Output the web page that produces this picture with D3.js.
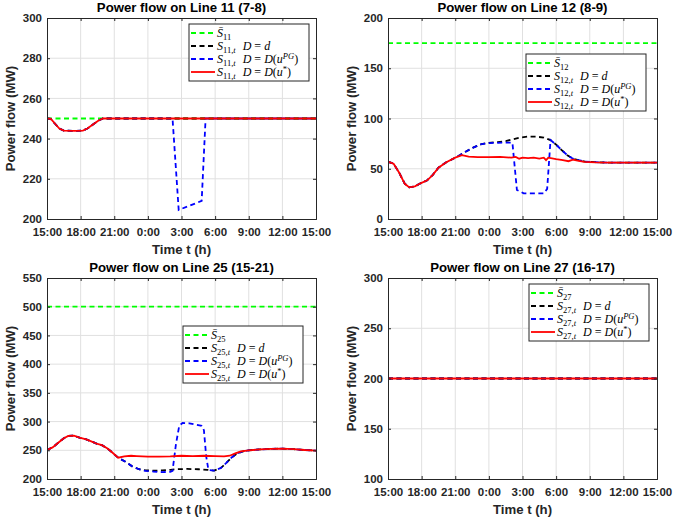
<!DOCTYPE html>
<html>
<head>
<meta charset="utf-8">
<script src="https://cdn.jsdelivr.net/npm/d3@7"></script>
<style>
body { margin: 0; background: #fff; }
text { font-family: "Liberation Sans", Arial, sans-serif; }
</style>
</head>
<body>
<div id="fig"></div>
<script>
// hours after 15:00, one day
var hourTicks = [0, 3, 6, 9, 12, 15, 18, 21, 24];
var hourLabels = ["15:00", "18:00", "21:00", "0:00", "3:00", "6:00", "9:00", "12:00", "15:00"];

// Line 11 (7-8)
var l11Limit = 250;
var l11Time = [0, 0.35, 0.7, 1.1, 1.5, 2.5, 3.2, 3.6, 4.1, 4.6, 5.0, 11.2, 11.75, 13.8, 14.15, 24];
var l11Base = [250, 249.8, 247.5, 245, 244, 243.8, 244, 245, 247, 249, 250, 250, 250, 250, 250, 250];
var l11PG   = [250, 249.8, 247.5, 245, 244, 243.8, 244, 245, 247, 249, 250, 250, 204.5, 209, 250, 250];
var l11Opt  = [250, 249.8, 247.5, 245, 244, 243.8, 244, 245, 247, 249, 250, 250, 250, 250, 250, 250];

// Line 12 (8-9)
var l12Limit = 175;
var l12BaseT = [0, 0.5, 1.0, 1.5, 1.9, 2.4, 2.9, 3.5, 4.0, 4.5, 5.2, 6.0, 6.4, 7.0, 7.6, 8.35, 9.0, 9.8, 10.5, 11.2, 11.8, 12.5, 13.2, 13.9, 14.5, 15.0, 15.5, 16.0, 16.5, 17.0, 17.6, 18.5, 20, 22, 24];
var l12BaseV = [57, 55, 46, 35, 31.5, 32.5, 35.5, 38.5, 44, 51, 56.5, 61, 63.5, 67.5, 71, 74.6, 75.8, 76.5, 77.5, 79.5, 81, 82, 82, 81, 78.5, 74, 68.5, 63.5, 60, 58.5, 57, 56.5, 56, 56, 56];
var l12PGT = [0, 0.5, 1.0, 1.5, 1.9, 2.4, 2.9, 3.5, 4.0, 4.5, 5.2, 6.0, 6.4, 7.0, 7.6, 8.35, 9.0, 9.8, 10.5, 11.1, 11.5, 12.1, 13.9, 14.2, 14.5, 15.0, 15.5, 16.0, 16.5, 17.0, 17.6, 18.5, 20, 22, 24];
var l12PGV = [57, 55, 46, 35, 31.5, 32.5, 35.5, 38.5, 44, 51, 56.5, 61, 63.5, 67.5, 71, 74.6, 75.5, 75.8, 76, 76, 29, 25.5, 25.5, 30, 78.5, 74, 68.5, 63.5, 60, 58.5, 57, 56.5, 56, 56, 56];
var l12OptT = [0, 0.5, 1.0, 1.5, 1.9, 2.4, 2.9, 3.5, 4.0, 4.5, 5.2, 6.0, 6.6, 7.2, 8, 9, 10, 11, 11.4, 11.7, 12, 12.5, 13, 13.5, 13.9, 14.1, 14.3, 15, 15.6, 16.1, 16.5, 16.9, 17.5, 18.5, 20, 22, 24];
var l12OptV = [57, 55, 46, 35, 31.5, 32.5, 35.5, 38.5, 44, 51, 56.5, 61, 63.5, 62, 61.5, 61.5, 61.8, 61, 61.8, 60, 61, 60.5, 61, 60, 61, 58.5, 61, 59.5, 58.5, 57.5, 59, 58, 56.8, 56.3, 56, 56, 56];

// Line 25 (15-21)
var l25Limit = 500;
var l25BaseT = [0, 0.5, 1.0, 1.5, 1.9, 2.4, 2.9, 3.5, 4.0, 4.5, 4.9, 5.4, 5.75, 6.35, 7.0, 7.6, 8.2, 8.8, 9.5, 10.3, 11, 11.5, 12.5, 13.5, 14.3, 14.9, 15.5, 16.0, 16.5, 17.0, 17.5, 18, 19, 20, 21, 22, 23, 24];
var l25BaseV = [250.5, 255, 263, 271, 275, 275.5, 272, 269, 265, 261, 259, 253, 247.5, 237, 230, 222, 217, 215, 214.5, 215, 216, 217, 217.5, 217, 216, 214.5, 219, 228, 238, 245, 248, 250, 251.5, 252.5, 253, 252, 250.5, 249.5];
var l25PGT = [0, 0.5, 1.0, 1.5, 1.9, 2.4, 2.9, 3.5, 4.0, 4.5, 4.9, 5.4, 5.75, 6.35, 7.0, 7.6, 8.2, 8.8, 9.5, 10.3, 11.0, 11.2, 11.5, 11.8, 12.1, 12.7, 13.3, 13.8, 14.0, 14.2, 14.4, 14.9, 15.5, 16.0, 16.5, 17.0, 17.5, 18, 19, 20, 21, 22, 23, 24];
var l25PGV = [250.5, 255, 263, 271, 275, 275.5, 272, 269, 265, 261, 259, 253, 247.5, 237, 230, 222, 217, 214, 213, 212, 212.5, 214, 260, 293, 297.5, 297, 294.5, 292.5, 285, 240, 216, 214.5, 219, 228, 238, 245, 248, 250, 251.5, 252.5, 253, 252, 250.5, 249.5];
var l25OptT = [0, 0.5, 1.0, 1.5, 1.9, 2.4, 2.9, 3.5, 4.0, 4.5, 4.9, 5.4, 5.75, 6.35, 6.9, 7.5, 8, 9, 10, 11, 12, 13, 14, 15, 15.8, 16.3, 16.8, 17.3, 18, 19, 20, 21, 22, 23, 24];
var l25OptV = [250.5, 255, 263, 271, 275, 275.5, 272, 269, 265, 261, 259, 253, 247.5, 237, 239.5, 240.5, 240, 239, 239, 239.5, 240.5, 240, 240.5, 240, 239.5, 240.5, 244.5, 248, 250, 251.5, 252.5, 253, 252, 250.5, 249.5];

// Line 27 (16-17)
var l27Limit = 200;
var l27Time = [0, 24];
var l27Base = [200, 200];
var l27PG   = [200, 200];
var l27Opt  = [200, 200];

var panels = [
  { title: "Power flow on Line 11 (7-8)", id: "11", limit: l11Limit, ydom: [200, 300], yticks: [200, 220, 240, 260, 280, 300],
    base: [l11Time, l11Base], pg: [l11Time, l11PG], opt: [l11Time, l11Opt],
    box: { x: 47, y: 18 }, legend: { x: 189, y: 24 } },
  { title: "Power flow on Line 12 (8-9)", id: "12", limit: l12Limit, ydom: [0, 200], yticks: [0, 50, 100, 150, 200],
    base: [l12BaseT, l12BaseV], pg: [l12PGT, l12PGV], opt: [l12OptT, l12OptV],
    box: { x: 388, y: 18 }, legend: { x: 526, y: 54 } },
  { title: "Power flow on Line 25 (15-21)", id: "25", limit: l25Limit, ydom: [200, 550], yticks: [200, 250, 300, 350, 400, 450, 500, 550],
    base: [l25BaseT, l25BaseV], pg: [l25PGT, l25PGV], opt: [l25OptT, l25OptV],
    box: { x: 47, y: 278 }, legend: { x: 183, y: 326 } },
  { title: "Power flow on Line 27 (16-17)", id: "27", limit: l27Limit, ydom: [100, 300], yticks: [100, 150, 200, 250, 300],
    base: [l27Time, l27Base], pg: [l27Time, l27PG], opt: [l27Time, l27Opt],
    box: { x: 388, y: 278 }, legend: { x: 529, y: 284 } }
];

var W = 673, H = 523;
var pw = 269, ph = 201;
var axisCol = "#262626";
var dash = "5,3.5";

var svg = d3.select("#fig").append("svg")
  .attr("width", W)
  .attr("height", H);

panels.forEach(function (p, i) {
  var g = svg.append("g").attr("transform", `translate(${p.box.x},${p.box.y})`);

  var x = d3.scaleLinear().domain([0, 24]).range([0, pw]);
  var y = d3.scaleLinear().domain(p.ydom).range([ph, 0]);

  // grid
  g.selectAll(".gx").data(hourTicks.slice(1, -1)).enter().append("line")
    .attr("x1", d => x(d)).attr("x2", d => x(d))
    .attr("y1", 0).attr("y2", ph)
    .attr("stroke", "#e0e0e0").attr("stroke-width", 1);
  g.selectAll(".gy").data(p.yticks.slice(1, -1)).enter().append("line")
    .attr("x1", 0).attr("x2", pw)
    .attr("y1", d => y(d)).attr("y2", d => y(d))
    .attr("stroke", "#e0e0e0").attr("stroke-width", 1);

  // clip
  svg.append("clipPath").attr("id", "clip" + i)
    .append("rect").attr("width", pw).attr("height", ph);

  var line = d3.line()
    .x(d => x(d[0]))
    .y(d => y(d[1]));

  function pairs(s) {
    return s[0].map((t, k) => [t, s[1][k]]);
  }

  var lines = g.append("g").attr("clip-path", `url(#clip${i})`);
  lines.append("path")
    .attr("d", line([[0, p.limit], [24, p.limit]]))
    .attr("fill", "none").attr("stroke", "#00ff00").attr("stroke-width", 1.8)
    .attr("stroke-dasharray", dash);
  lines.append("path")
    .attr("d", line(pairs(p.base)))
    .attr("fill", "none").attr("stroke", "#000").attr("stroke-width", 1.8)
    .attr("stroke-dasharray", dash);
  lines.append("path")
    .attr("d", line(pairs(p.pg)))
    .attr("fill", "none").attr("stroke", "#0000ff").attr("stroke-width", 1.8)
    .attr("stroke-dasharray", dash);
  lines.append("path")
    .attr("d", line(pairs(p.opt)))
    .attr("fill", "none").attr("stroke", "#ff0000").attr("stroke-width", 1.8);

  // axes (box with inward ticks on all sides)
  var xb = d3.axisBottom(x).tickValues(hourTicks).tickSize(-3).tickPadding(8.5)
    .tickFormat((d, k) => hourLabels[k]);
  var xt = d3.axisTop(x).tickValues(hourTicks).tickSize(-3).tickFormat("");
  var yl = d3.axisLeft(y).tickValues(p.yticks).tickSize(-3).tickPadding(5);
  var yr = d3.axisRight(y).tickValues(p.yticks).tickSize(-3).tickFormat("");

  [[xb, `translate(0,${ph})`], [xt, "translate(0,0)"], [yl, "translate(0,0)"], [yr, `translate(${pw},0)`]]
    .forEach(function (a) {
      var ax = g.append("g").attr("transform", a[1]).call(a[0]);
      ax.select(".domain").attr("stroke", axisCol).attr("stroke-width", 1);
      ax.selectAll(".tick line").attr("stroke", axisCol);
      ax.selectAll("text").attr("fill", axisCol)
        .style("font-size", "11.5px").style("font-weight", "bold")
        .style("font-family", '"Liberation Sans", Arial, sans-serif');
    });

  // title & labels
  g.append("text")
    .attr("x", pw / 2).attr("y", -6)
    .attr("text-anchor", "middle")
    .style("font-size", "13.2px").style("font-weight", "bold")
    .attr("fill", "#000")
    .text(p.title);

  g.append("text")
    .attr("x", pw / 2).attr("y", ph + 35)
    .attr("text-anchor", "middle")
    .style("font-size", "13.2px").style("font-weight", "bold")
    .attr("fill", axisCol)
    .text("Time t (h)");

  g.append("text")
    .attr("transform", `translate(-32,${ph / 2}) rotate(-90)`)
    .attr("text-anchor", "middle")
    .style("font-size", "13.2px").style("font-weight", "bold")
    .attr("fill", axisCol)
    .text("Power flow (MW)");

  // legend
  var lg = svg.append("g").attr("transform", `translate(${p.legend.x},${p.legend.y})`);
  lg.append("rect")
    .attr("width", 120).attr("height", 57)
    .attr("fill", "#fff").attr("stroke", axisCol).attr("stroke-width", 1);

  var items = [
    { col: "#00ff00", dash: dash, parts: [{ t: "S\u0304", i: 1 }, { t: p.id, sub: 1 }] },
    { col: "#000", dash: dash, parts: [{ t: "S", i: 1 }, { t: p.id + ",", sub: 1 }, { t: "t", sub: 1, i: 1 },
      { t: "D", i: 1, dx: 7 }, { t: "=", dx: 3 }, { t: "d", i: 1, dx: 3 }] },
    { col: "#0000ff", dash: dash, parts: [{ t: "S", i: 1 }, { t: p.id + ",", sub: 1 }, { t: "t", sub: 1, i: 1 },
      { t: "D", i: 1, dx: 7 }, { t: "=", dx: 3 }, { t: "D", i: 1, dx: 3 }, { t: "(" }, { t: "u", i: 1 }, { t: "PG", sup: 1, i: 1 }, { t: ")" }] },
    { col: "#ff0000", dash: null, parts: [{ t: "S", i: 1 }, { t: p.id + ",", sub: 1 }, { t: "t", sub: 1, i: 1 },
      { t: "D", i: 1, dx: 7 }, { t: "=", dx: 3 }, { t: "D", i: 1, dx: 3 }, { t: "(" }, { t: "u", i: 1 }, { t: "*", sup: 1 }, { t: ")" }] }
  ];

  items.forEach(function (it, k) {
    var yy = 9 + k * 13;
    lg.append("line")
      .attr("x1", 2).attr("x2", 26).attr("y1", yy).attr("y2", yy)
      .attr("stroke", it.col).attr("stroke-width", 1.8)
      .attr("stroke-dasharray", it.dash);
    var tx = lg.append("text")
      .attr("x", 28).attr("y", yy + 4)
      .style("font-family", '"Liberation Serif", "DejaVu Serif", serif')
      .style("font-size", "12px")
      .attr("fill", "#000");
    var shift = 0;
    it.parts.forEach(function (pt) {
      var target = pt.sub ? 3 : pt.sup ? -4.5 : 0;
      var ts = tx.append("tspan")
        .attr("dy", target - shift)
        .style("font-style", pt.i ? "italic" : "normal")
        .style("font-size", (pt.sub || pt.sup) ? "8.5px" : "12px")
        .text(pt.t);
      if (pt.dx) ts.attr("dx", pt.dx);
      shift = target;
    });
  });
});
</script>
</body>
</html>
